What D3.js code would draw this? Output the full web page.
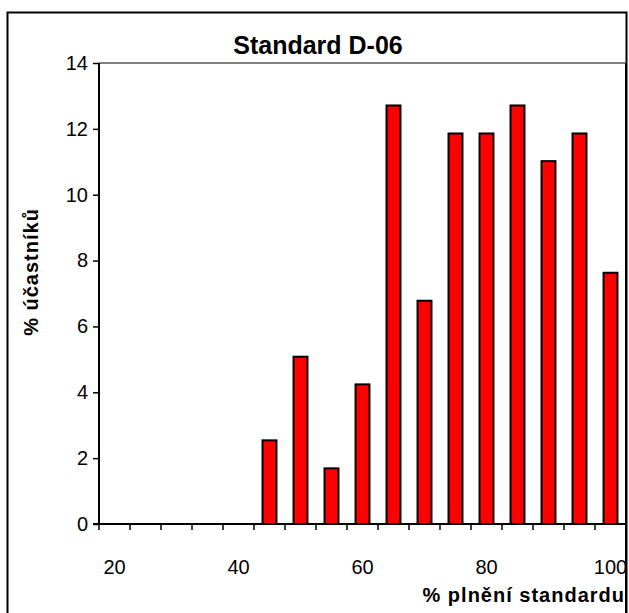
<!DOCTYPE html>
<html>
<head>
<meta charset="utf-8">
<script src="https://cdn.jsdelivr.net/npm/d3@7"></script>
<style>
  body { margin: 0; background: #fff; }
  svg { display: block; font-family: Arial, "Liberation Sans", sans-serif; }
</style>
</head>
<body>
<svg width="629" height="613"></svg>
<script>
// categories (% plnění) and share of participants in each
var categories = [20, 25, 30, 35, 40, 45, 50, 55, 60, 65, 70, 75, 80, 85, 90, 95, 100];
var values = [0, 0, 0, 0, 0, 2.54, 5.08, 1.69, 4.24, 12.71, 6.78, 11.86, 11.86, 12.71, 11.02, 11.86, 7.63];
var xLabels = [20, 40, 60, 80, 100];
var yTicks = [0, 2, 4, 6, 8, 10, 12, 14];

var svg = d3.select("svg");
var plotLeft = 99, plotRight = 626, plotTop = 63, plotBottom = 524;

// outer chart frame (runs off the bottom of the picture)
svg.append("rect")
  .attr("x", 7.5).attr("y", 12.5)
  .attr("width", 619).attr("height", 640)
  .attr("fill", "none").attr("stroke", "#000").attr("stroke-width", 2);

var x = d3.scaleBand()
  .domain(categories)
  .range([plotLeft, plotRight])
  .paddingInner(0.55)
  .paddingOuter(0.275);

var xEdge = d3.scaleBand().domain(categories).range([plotLeft, plotRight]).padding(0);

var y = d3.scaleLinear().domain([0, 14]).range([plotBottom, plotTop]);

// top border of plot area
svg.append("line")
  .attr("x1", plotLeft).attr("x2", plotRight)
  .attr("y1", plotTop).attr("y2", plotTop)
  .attr("stroke", "#808080").attr("stroke-width", 2);

svg.append("g")
  .selectAll("rect")
  .data(values)
  .enter().append("rect")
  .attr("x", function(d, i) { return x(categories[i]); })
  .attr("width", x.bandwidth())
  .attr("y", function(d) { return y(d); })
  .attr("height", function(d) { return plotBottom - y(d); })
  .attr("fill", "#ff0000")
  .attr("stroke", "#000")
  .attr("stroke-width", 2)
  .style("display", function(d) { return d > 0 ? null : "none"; });

// y axis
var yAxis = svg.append("g")
  .attr("transform", "translate(" + plotLeft + ",0)")
  .call(d3.axisLeft(y).tickValues(yTicks).tickSize(6).tickPadding(5));
yAxis.select(".domain").attr("stroke", "#000").attr("stroke-width", 2).attr("d", "M0," + plotBottom + "V" + plotTop);
yAxis.selectAll(".tick line").attr("stroke", "#000").attr("stroke-width", 1.5);
yAxis.selectAll(".tick text").attr("font-size", 20).attr("fill", "#000")
  .attr("font-family", "Arial, 'Liberation Sans', sans-serif");

// x axis: ticks between categories, labels on every 4th category
var xAxis = svg.append("g");
xAxis.append("line")
  .attr("x1", plotLeft - 6).attr("x2", plotRight)
  .attr("y1", plotBottom).attr("y2", plotBottom)
  .attr("stroke", "#000").attr("stroke-width", 2);

var edges = categories.map(function(c) { return xEdge(c); }).concat([plotRight]);
xAxis.selectAll("line.tk")
  .data(edges)
  .enter().append("line")
  .attr("class", "tk")
  .attr("x1", function(d) { return d; }).attr("x2", function(d) { return d; })
  .attr("y1", plotBottom).attr("y2", plotBottom + 6)
  .attr("stroke", "#000").attr("stroke-width", 1.5);

xAxis.selectAll("text")
  .data(xLabels)
  .enter().append("text")
  .attr("x", function(d) { return xEdge(d) + xEdge.bandwidth() / 2; })
  .attr("y", 574)
  .attr("text-anchor", "middle")
  .attr("font-size", 20)
  .text(function(d) { return d; });

// right edge of plot area
svg.append("line")
  .attr("x1", plotRight).attr("x2", plotRight)
  .attr("y1", plotTop).attr("y2", 613)
  .attr("stroke", "#000").attr("stroke-width", 2);

// titles
svg.append("text")
  .attr("x", 318).attr("y", 54)
  .attr("text-anchor", "middle")
  .attr("font-size", 25).attr("font-weight", "bold")
  .text("Standard D-06");

svg.append("text")
  .attr("x", 625).attr("y", 602)
  .attr("text-anchor", "end")
  .attr("font-size", 20).attr("font-weight", "bold")
  .attr("letter-spacing", 1)
  .text("% plnění standardu");

svg.append("text")
  .attr("transform", "translate(38,272) rotate(-90)")
  .attr("text-anchor", "middle")
  .attr("font-size", 20).attr("font-weight", "bold")
  .attr("letter-spacing", 1)
  .text("% účastníků");
</script>
</body>
</html>
